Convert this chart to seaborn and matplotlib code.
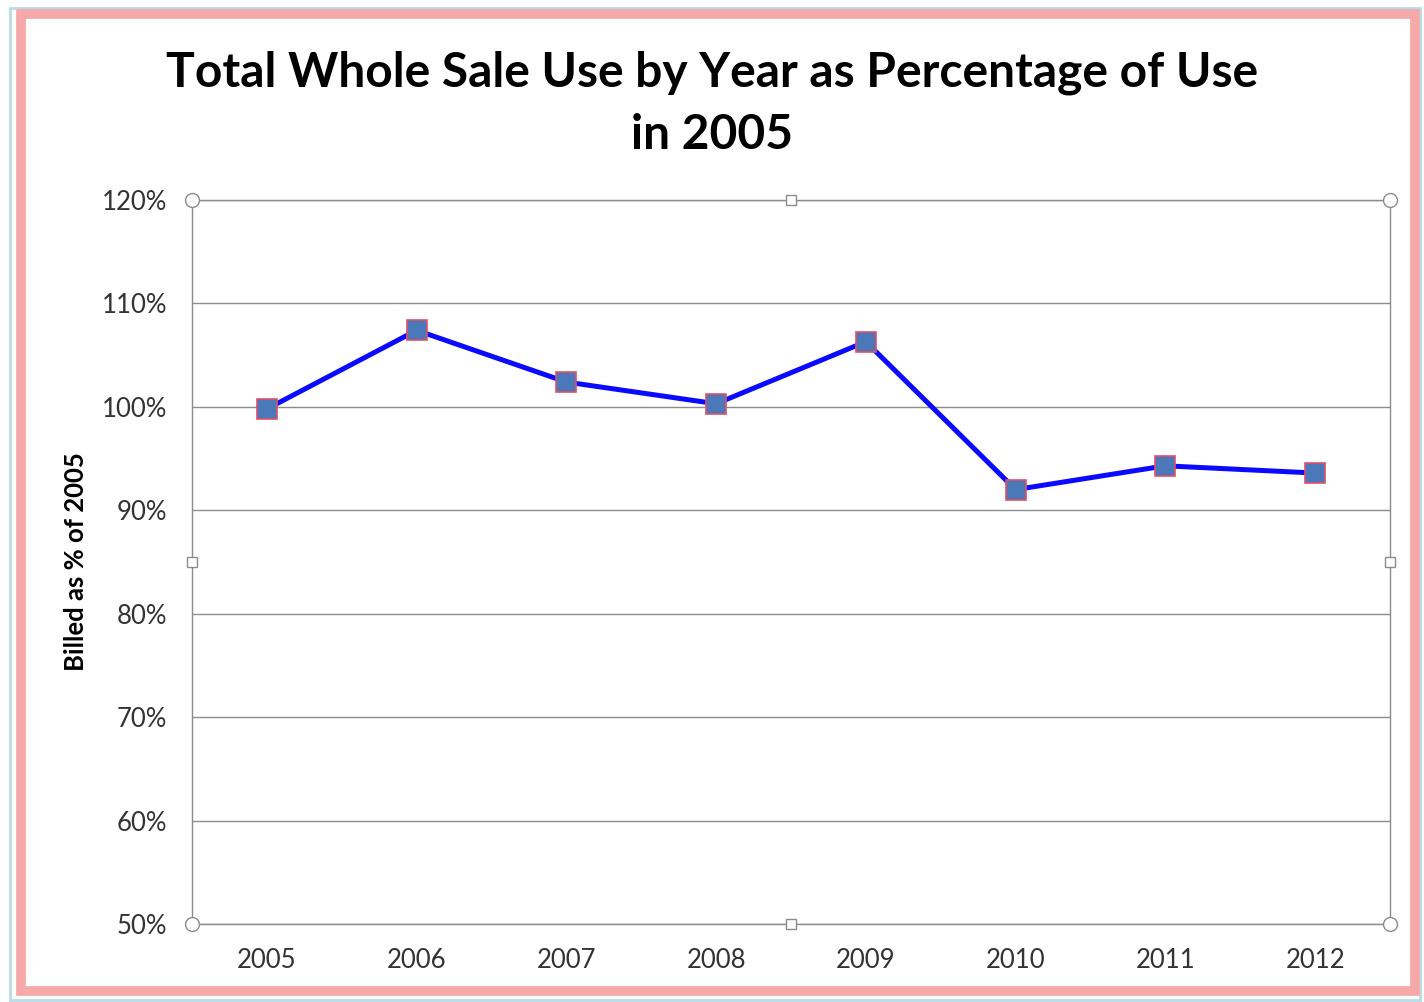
import matplotlib
matplotlib.use("Agg")
import matplotlib.pyplot as plt
import pandas as pd
import seaborn as sns
from matplotlib.patches import Rectangle
from matplotlib.ticker import FuncFormatter, MultipleLocator

# === DATA ===
years = ["2005", "2006", "2007", "2008", "2009", "2010", "2011", "2012"]
pct_of_2005 = [99.8, 107.4, 102.4, 100.3, 106.3, 92.0, 94.3, 93.6]

df = pd.DataFrame({"year": years, "pct": pct_of_2005})
df["pos"] = range(len(df))

sns.set_theme(style="white")
plt.rcParams["font.family"] = ["Lato", "DejaVu Sans"]

fig = plt.figure(figsize=(14.24, 10.02), dpi=100, facecolor="white")
ax = fig.add_axes([192 / 1424, 1 - 924 / 1002, (1390 - 192) / 1424, 724 / 1002])

sns.lineplot(
    data=df,
    x="pos",
    y="pct",
    ax=ax,
    color="#0a0aff",
    linewidth=3.6,
    marker="s",
    markersize=15,
    markerfacecolor="#4a78b8",
    markeredgecolor="#e0506a",
    markeredgewidth=1.2,
)

ax.set_xlim(-0.5, len(years) - 0.5)
ax.set_ylim(50, 120)
ax.yaxis.set_major_locator(MultipleLocator(10))
ax.yaxis.set_major_formatter(FuncFormatter(lambda v, _: f"{v:.0f}%"))
ax.set_xticks(df["pos"])
ax.set_xticklabels(years)
ax.tick_params(axis="both", labelsize=18.5, colors="#333333", length=0)
ax.tick_params(axis="x", pad=17)
ax.tick_params(axis="y", pad=18)
ax.grid(axis="y", color="#8c8c8c", linewidth=1.0)
ax.set_axisbelow(True)
for s in ax.spines.values():
    s.set_color("#8c8c8c")
    s.set_linewidth(1.0)

ax.set_xlabel("")
ax.set_ylabel("Billed as % of 2005", fontsize=18.5, fontweight="bold", color="black")
ax.yaxis.set_label_coords(-0.087, 0.5)

# selection handles of the chart area
for xf, yf in [(0, 0), (0, 1), (1, 0), (1, 1)]:
    ax.plot(xf, yf, "o", transform=ax.transAxes, ms=10, mfc="white", mec="#8c8c8c",
            mew=1.0, clip_on=False, zorder=5)
for xf, yf in [(0.5, 0), (0.5, 1), (0, 0.5), (1, 0.5)]:
    ax.plot(xf, yf, "s", transform=ax.transAxes, ms=7, mfc="white", mec="#8c8c8c",
            mew=1.0, clip_on=False, zorder=5)

fig.text(712 / 1424, 1 - 104 / 1002, "Total Whole Sale Use by Year as Percentage of Use\nin 2005",
         ha="center", va="center", fontsize=34.5, fontweight="bold", color="black",
         linespacing=1.5)

# chart frame
fig.patches.append(Rectangle((10 / 1424, 2 / 1002), 1410 / 1424, 992 / 1002, transform=fig.transFigure,
                             fill=False, edgecolor="#b8dde8", linewidth=2))
fig.patches.append(Rectangle((21 / 1424, 11 / 1002), 1394 / 1424, 977 / 1002, transform=fig.transFigure,
                             fill=False, edgecolor="#f7a8a8", linewidth=7))

fig.savefig("out.png", dpi=100, facecolor="white")
